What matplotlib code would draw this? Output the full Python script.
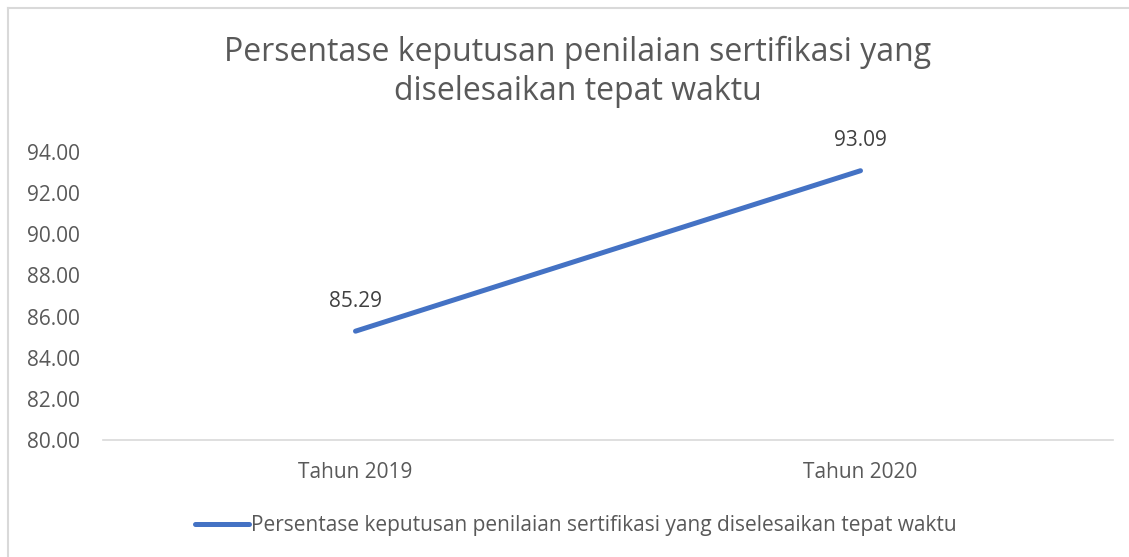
import matplotlib.pyplot as plt
import numpy as np

plt.rcParams['font.family'] = ['Open Sans', 'DejaVu Sans']

# data
categories = ['Tahun 2019', 'Tahun 2020']
values = [85.29, 93.09]
yticks = [80, 82, 84, 86, 88, 90, 92, 94]
title = 'Persentase keputusan penilaian sertifikasi yang\ndiselesaikan tepat waktu'
series_name = 'Persentase keputusan penilaian sertifikasi yang diselesaikan tepat waktu'

fig = plt.figure(figsize=(11.29, 5.57), dpi=100)
ax = fig.add_axes([103/1129, 1 - 440/557, 1010/1129, 288/557])

x = np.arange(len(categories))
ax.plot(x, values, color='#4472C4', linewidth=3.6, solid_capstyle='round', label=series_name)

for xi, v in zip(x, values):
    ax.annotate(f'{v:.2f}', (xi, v), xytext=(0, 14), textcoords='offset points',
                ha='center', va='bottom', fontsize=15, color='#404040')

ax.set_xlim(-0.5, len(categories) - 0.5)
ax.set_ylim(80, 94)
ax.set_yticks(yticks)
ax.set_yticklabels([f'{t:.2f}' for t in yticks])
ax.set_xticks(x)
ax.set_xticklabels(categories)
ax.tick_params(axis='y', length=0, labelsize=15, labelcolor='#595959', pad=16.5)
ax.tick_params(axis='x', length=0, labelsize=15, labelcolor='#595959', pad=16)

for side in ['top', 'right', 'left']:
    ax.spines[side].set_visible(False)
ax.spines['bottom'].set_color('#D9D9D9')
ax.spines['bottom'].set_linewidth(1.2)

fig.text(0.512, 1 - 72/557, title, ha='center', va='center', fontsize=23,
         color='#595959', linespacing=1.25)

leg = fig.legend(loc='center', bbox_to_anchor=(0.51, 1 - 526/557), frameon=False,
                 fontsize=15, handlelength=2.6, handletextpad=0.1, labelcolor='#595959')

# chart border (top and left visible)
fig.add_artist(plt.Line2D([8/1129, 8/1129], [0, 1 - 8/557], color='#D9D9D9', linewidth=1.5,
                          transform=fig.transFigure))
fig.add_artist(plt.Line2D([8/1129, 1], [1 - 8/557, 1 - 8/557], color='#D9D9D9', linewidth=1.5,
                          transform=fig.transFigure))

fig.savefig('out.png', dpi=100)
